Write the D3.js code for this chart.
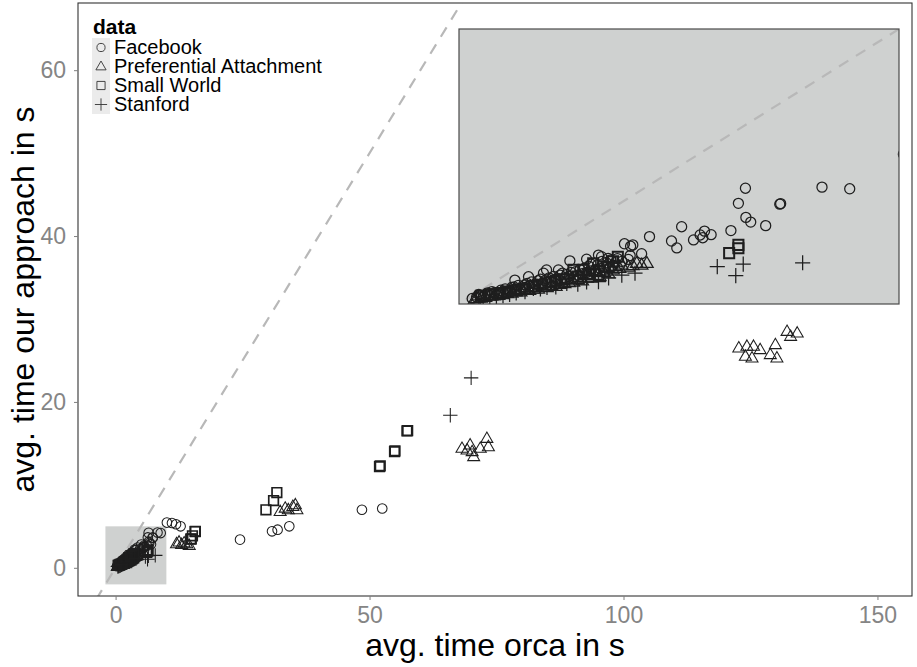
<!DOCTYPE html>
<html>
<head>
<meta charset="utf-8">
<script src="https://cdn.jsdelivr.net/npm/d3@7"></script>
<style>
  body { margin: 0; background: #fff; }
  svg { display: block; font-family: "Liberation Sans", Arial, sans-serif; }
</style>
</head>
<body>
<svg id="chart" width="917" height="667"></svg>
<script>
// --- data ---
const seriesNames = ["Facebook", "Preferential Attachment", "Small World", "Stanford"];
const seriesShapes = ["circle", "triangle", "square", "plus"];

const facebook = [
  [0.4,0.25],[0.5,0.3],[0.6,0.35],[0.7,0.3],[0.8,0.4],[0.9,0.38],[1.0,0.45],[1.1,0.42],
  [1.2,0.5],[1.27,0.87],[1.3,0.55],[1.4,0.5],[1.5,0.6],[1.58,0.99],[1.6,0.65],[1.7,0.62],
  [1.8,0.7],[1.9,0.75],[1.92,1.12],[1.99,1.24],[2.0,0.8],[2.1,0.78],[2.2,0.9],[2.26,1.24],
  [2.3,0.85],[2.4,0.95],[2.5,1.0],[2.6,0.95],[2.7,1.05],[2.8,1.1],[2.9,1.15],[3.0,1.2],
  [3.1,1.25],[3.2,1.3],[3.3,1.35],[3.4,1.3],[3.5,1.4],[1.2,0.6],[1.5,0.7],[1.8,0.85],
  [2.05,0.95],[2.3,1.05],[2.55,1.15],[2.75,1.25],[3.0,1.45],[3.25,1.55],[3.45,1.6],
  [0.3,0.2],[0.45,0.35],[0.55,0.25],[0.65,0.4],[0.75,0.45],[0.85,0.32],[0.95,0.5],
  [1.05,0.55],[1.15,0.48],[1.25,0.62],[1.35,0.68],[1.45,0.58],[1.55,0.75],[1.65,0.8],
  [1.75,0.72],[1.85,0.9],[1.95,0.85],[2.15,1.0],[2.25,0.92],[2.35,1.12],[2.45,1.08],
  [2.65,1.18],[2.85,1.3],[2.95,1.38],[3.15,1.42],[3.35,1.5],[3.6,1.65],[3.7,1.55],[3.85,1.62],
  [2.52,1.57],[2.9,1.63],[3.17,1.78],[3.24,1.72],[3.39,1.66],[3.55,1.5],
  [3.76,2.19],[3.95,2.15],[3.9,2.1],[3.89,1.76],[4.15,1.83],[4.33,2.45],[4.83,2.29],
  [4.95,2.04],[5.06,2.81],[5.33,2.33],[5.48,2.51],[5.58,2.65],[5.54,2.41],[5.73,2.52],
  [6.18,2.67],[6.52,3.15],[6.63,2.98],[6.97,2.85],[6.35,3.66],[7.29,3.63],[7.31,3.65],
  [6.51,4.21],[8.25,4.25],[8.88,4.19],
  [10.1,5.45],[11.1,5.4],[11.9,5.25],[12.8,5.0],[24.5,3.4],[30.8,4.4],[31.9,4.6],
  [34.2,5.0],[48.5,7.0],[52.5,7.15]
];

const prefAttach = [
  [0.4,0.2],[0.6,0.25],[0.8,0.3],[1.0,0.35],[1.2,0.4],[1.4,0.45],[1.6,0.5],[1.8,0.55],
  [2.0,0.6],[2.2,0.65],[2.4,0.75],[2.6,0.8],[2.8,0.85],[2.9,1.05],[3.0,0.95],[3.1,1.2],
  [3.2,1.0],[3.3,1.15],[3.4,1.1],[3.55,1.36],[3.7,1.42],[4.04,1.48],[4.27,1.48],
  [0.35,0.15],[0.5,0.22],[0.7,0.3],[0.9,0.32],[1.1,0.38],[1.3,0.45],[1.5,0.5],[1.7,0.55],
  [1.9,0.62],[2.1,0.68],[2.3,0.72],[2.5,0.78],[2.7,0.9],[2.95,0.98],[3.15,1.05],[3.35,1.2],
  [3.5,1.25],[3.65,1.3],[3.85,1.35],[3.95,1.4],[4.15,1.42],
  [12.0,2.9],[12.5,3.1],[13.0,2.8],[13.5,3.0],[14.0,2.9],[14.5,2.7],
  [32.4,6.78],[33.4,7.19],[34.0,6.99],[34.9,7.39],[35.4,7.59],[35.7,6.99],
  [68.2,14.4],[69.2,14.2],[69.8,14.8],[70.2,14.0],[70.5,13.4],[71.8,14.4],[73.1,15.6],[73.4,14.6],
  [122.7,26.5],[124.3,26.7],[124.0,25.5],[125.3,25.3],[125.6,26.7],[126.9,26.3],[128.9,25.7],
  [129.9,26.9],[130.2,25.3],[132.2,28.5],[132.9,27.9],[134.2,28.3]
];

const smallWorld = [
  [0.5,0.3],[0.7,0.35],[0.9,0.4],[1.1,0.45],[1.3,0.5],[1.5,0.55],[1.7,0.65],[1.9,0.7],
  [2.1,0.8],[2.2,0.85],[2.4,0.9],[2.6,1.24],[2.7,1.0],[2.83,1.24],[2.95,1.1],[3.05,1.48],
  [3.2,1.2],[3.4,1.35],[3.5,1.55],[3.61,1.72],[6.14,1.85],[6.35,2.03],[6.35,2.15],
  [14.8,3.46],[14.9,3.5],[15.13,3.86],[15.66,4.37],[15.7,4.4],
  [29.6,6.99],[31.1,8.11],[31.75,9.07],
  [51.96,12.2],[52.1,12.3],[54.92,14.01],[55.0,14.1],[57.36,16.5],[57.5,16.55]
];

const stanford = [
  [0.45,0.15],[0.55,0.2],[0.7,0.22],[0.85,0.25],[1.0,0.3],[1.15,0.35],[1.3,0.4],[1.5,0.45],
  [1.69,0.57],[1.85,0.55],[2.0,0.6],[2.2,0.62],[2.45,0.75],[2.7,0.72],[2.9,0.8],[3.17,0.81],
  [3.4,0.95],[3.7,1.05],[4.0,1.12],
  [5.87,1.36],[6.29,1.03],[6.46,1.45],[7.81,1.5],
  [65.9,18.4],[70.0,22.9]
];

const allSeries = [facebook, prefAttach, smallWorld, stanford];

const xTicks = [0, 50, 100, 150];
const yTicks = [0, 20, 40, 60];
const mainXDomain = [-7.4, 156.8];
const mainYDomain = [-3.4, 68.1];
const highlightX = [-2, 10];
const highlightY = [-2, 5];
const insetDomain = [0, 10];

// --- layout ---
const svg = d3.select("#chart");
const panel = { left: 78, right: 912, top: 3, bottom: 596 };
const inset = { left: 459, right: 899, top: 29, bottom: 304 };

const x = d3.scaleLinear().domain(mainXDomain).range([panel.left, panel.right]);
const y = d3.scaleLinear().domain(mainYDomain).range([panel.bottom, panel.top]);
const xi = d3.scaleLinear().domain(insetDomain).range([inset.left, inset.right]);
const yi = d3.scaleLinear().domain(insetDomain).range([inset.bottom, inset.top]);

const ink = "#1e1e1e";
const greyFill = "#cfd1d0";

const defs = svg.append("defs");
defs.append("clipPath").attr("id", "clip-main")
  .append("rect").attr("x", panel.left).attr("y", panel.top)
  .attr("width", panel.right - panel.left).attr("height", panel.bottom - panel.top);
defs.append("clipPath").attr("id", "clip-inset")
  .append("rect").attr("x", inset.left).attr("y", inset.top)
  .attr("width", inset.right - inset.left).attr("height", inset.bottom - inset.top);

function shapePath(shape, s) {
  if (shape === "circle") {
    const r = s * 0.48;
    return `M${r},0A${r},${r} 0 1,1 ${-r},0A${r},${r} 0 1,1 ${r},0Z`;
  }
  if (shape === "triangle") {
    const w = s * 1.2, h = w * 0.866;
    return `M0,${-h * 0.62}L${w / 2},${h * 0.38}L${-w / 2},${h * 0.38}Z`;
  }
  if (shape === "square") {
    const a = s * 0.48;
    return `M${-a},${-a}H${a}V${a}H${-a}Z`;
  }
  const a = s * 0.72;
  return `M${-a},0H${a}M0,${-a}V${a}`;
}

function drawPoints(g, xs, ys, size, weight) {
  allSeries.forEach((data, i) => {
    const shape = seriesShapes[i];
    g.append("g")
      .selectAll("path")
      .data(data)
      .join("path")
      .attr("transform", d => `translate(${xs(d[0])},${ys(d[1])})`)
      .attr("d", shapePath(shape, size))
      .attr("fill", "none")
      .attr("stroke", ink)
      .attr("stroke-width", shape === "square" ? weight * 1.6 : weight);
  });
}

// --- main panel ---
svg.append("rect").attr("x", panel.left).attr("y", panel.top)
  .attr("width", panel.right - panel.left).attr("height", panel.bottom - panel.top)
  .attr("fill", "#fff");

const main = svg.append("g").attr("clip-path", "url(#clip-main)");

main.append("rect")
  .attr("x", x(highlightX[0])).attr("y", y(highlightY[1]))
  .attr("width", x(highlightX[1]) - x(highlightX[0]))
  .attr("height", y(highlightY[0]) - y(highlightY[1]))
  .attr("fill", greyFill);

main.append("line")
  .attr("x1", x(-10)).attr("y1", y(-10)).attr("x2", x(160)).attr("y2", y(160))
  .attr("stroke", "#b8b8b8").attr("stroke-width", 2.2).attr("stroke-dasharray", "11,9");

drawPoints(main, x, y, 10, 1.05);

// --- inset zoom panel ---
const ins = svg.append("g");
ins.append("rect").attr("x", inset.left).attr("y", inset.top)
  .attr("width", inset.right - inset.left).attr("height", inset.bottom - inset.top)
  .attr("fill", greyFill);
const insClip = ins.append("g").attr("clip-path", "url(#clip-inset)");
insClip.append("line")
  .attr("x1", xi(-1)).attr("y1", yi(-1)).attr("x2", xi(11)).attr("y2", yi(11))
  .attr("stroke", "#b8b8b8").attr("stroke-width", 2.2).attr("stroke-dasharray", "11,9");
drawPoints(insClip, xi, yi, 10.5, 1.25);
ins.append("rect").attr("x", inset.left).attr("y", inset.top)
  .attr("width", inset.right - inset.left).attr("height", inset.bottom - inset.top)
  .attr("fill", "none").attr("stroke", "#4a4a4a").attr("stroke-width", 1.2);

// --- panel border and axes ---
svg.append("rect").attr("x", panel.left).attr("y", panel.top)
  .attr("width", panel.right - panel.left).attr("height", panel.bottom - panel.top)
  .attr("fill", "none").attr("stroke", "#333").attr("stroke-width", 1.1);

const xAxis = svg.append("g")
  .attr("transform", `translate(0,${panel.bottom})`)
  .call(d3.axisBottom(x).tickValues(xTicks).tickSize(4).tickPadding(7));
const yAxis = svg.append("g")
  .attr("transform", `translate(${panel.left},0)`)
  .call(d3.axisLeft(y).tickValues(yTicks).tickSize(4).tickPadding(8));
[xAxis, yAxis].forEach(ax => {
  ax.select(".domain").remove();
  ax.selectAll(".tick line").attr("stroke", "#7f7f7f");
  ax.selectAll(".tick text")
    .attr("fill", "#858585")
    .style("font-size", "23px")
    .style("font-family", "'Liberation Sans', Arial, sans-serif");
});

svg.append("text")
  .attr("x", (panel.left + panel.right) / 2).attr("y", 656)
  .attr("text-anchor", "middle")
  .style("font-size", "32px").attr("fill", "#000")
  .text("avg. time orca in s");

svg.append("text")
  .attr("transform", `translate(34,${(panel.top + panel.bottom) / 2}) rotate(-90)`)
  .attr("text-anchor", "middle")
  .style("font-size", "32px").attr("fill", "#000")
  .text("avg. time our approach in s");

// --- legend ---
const legend = svg.append("g").attr("transform", "translate(92,0)");
legend.append("text").attr("x", 1).attr("y", 34)
  .style("font-size", "21px").style("font-weight", "bold").text("data");

const item = legend.selectAll(".item")
  .data(seriesNames)
  .join("g")
  .attr("class", "item")
  .attr("transform", (d, i) => `translate(0,${38 + i * 19})`);
item.append("rect").attr("width", 18).attr("height", 19).attr("fill", "#ebebeb");
item.append("path")
  .attr("transform", "translate(9,9.5)")
  .attr("d", (d, i) => shapePath(seriesShapes[i], 8.5))
  .attr("fill", "none").attr("stroke", "#333").attr("stroke-width", 0.9);
item.append("text").attr("x", 22).attr("y", 15.5)
  .style("font-size", "20px").text(d => d);
</script>
</body>
</html>
